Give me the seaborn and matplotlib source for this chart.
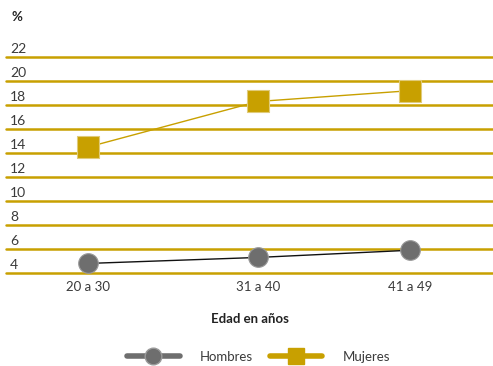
import matplotlib.pyplot as plt
from matplotlib.lines import Line2D
import matplotlib.transforms as mtransforms
import seaborn as sns
import pandas as pd

edades = ["20 a 30", "31 a 40", "41 a 49"]
hombres = [4.8, 5.3, 5.9]
mujeres = [14.5, 18.3, 19.2]
y_ticks = [4, 6, 8, 10, 12, 14, 16, 18, 20, 22]

# category positions along the x axis (the original is not evenly spaced)
x_pos = [0, 1.056, 2]

gold = "#C8A000"
grey = "#6E6E6E"
text_c = "#3A3A3A"

sns.set_style("white")
plt.rcParams['font.family'] = ['Lato', 'DejaVu Sans']

df = pd.DataFrame({
    "edad": edades * 2,
    "pos": x_pos * 2,
    "valor": hombres + mujeres,
    "sexo": ["Hombres"] * len(edades) + ["Mujeres"] * len(edades),
})

fig = plt.figure(figsize=(4.93, 3.66), dpi=100)
ax = fig.add_axes([0.0122, 0.254, 0.9878, 0.59])

# horizontal gold rules
for v in y_ticks:
    ax.axhline(v, color=gold, lw=1.8, zorder=1, clip_on=False)

# connecting lines
sns.lineplot(data=df, x="pos", y="valor", hue="sexo",
             palette={"Hombres": "#111111", "Mujeres": gold},
             lw=1.0, legend=False, ax=ax, zorder=2)
# markers
h = df[df.sexo == "Hombres"]
m = df[df.sexo == "Mujeres"]
sns.scatterplot(x=h.pos, y=h.valor, marker="o", s=200, color=grey,
                edgecolor="#9A9A9A", linewidth=0.8, ax=ax, zorder=3,
                legend=False)
sns.scatterplot(x=m.pos, y=m.valor, marker="s", s=240, color=gold,
                edgecolor="#E0CB7A", linewidth=0.8, ax=ax, zorder=3,
                legend=False)

ax.set_xlim(-0.509, 2.515)
ax.set_ylim(4, 22)
for s in ax.spines.values():
    s.set_visible(False)

ax.set_yticks([])
ax.set_xticks(x_pos)
ax.set_xticklabels(edades, fontsize=9.5, color=text_c)
ax.tick_params(axis="x", length=0, pad=6)
ax.set_xlabel("Edad en años", fontsize=9.5, fontweight="bold",
              color="#222222", labelpad=14)
ax.set_ylabel("")

trans = mtransforms.blended_transform_factory(ax.transAxes, ax.transData)
for v in y_ticks:
    ax.text(0.008, v + 0.15, str(v), transform=trans, fontsize=10,
            color=text_c, ha="left", va="bottom")
fig.text(0.024, 0.953, "%", fontsize=9.5, fontweight="bold",
         color="#222222", ha="left", va="center")

handles = [
    Line2D([0], [0], color=grey, lw=4, marker="o", markersize=12,
           markerfacecolor=grey, markeredgecolor="#9A9A9A"),
    Line2D([0], [0], color=gold, lw=4, marker="s", markersize=12,
           markerfacecolor=gold, markeredgecolor=gold),
]
fig.legend(handles, ["Hombres", "Mujeres"], loc="center",
           bbox_to_anchor=(0.524, 0.025), ncol=2, frameon=False,
           handlelength=4.0, handletextpad=1.5, columnspacing=1.3,
           prop={"size": 9.5}, labelcolor=text_c)

fig.savefig("out.png", dpi=100)
